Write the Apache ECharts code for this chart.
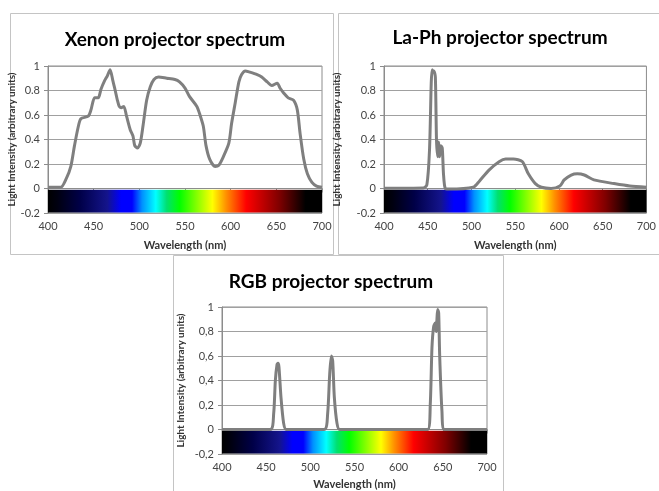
<!DOCTYPE html>
<html>
<head>
<meta charset="utf-8">
<script src="https://cdn.jsdelivr.net/npm/echarts@6/dist/echarts.min.js"></script>
<style>
  html, body { margin: 0; padding: 0; background: #fff; }
  #main { width: 659px; height: 491px; }
</style>
</head>
<body>
<div id="main"></div>
<script>
// Xenon lamp spectrum (wavelength nm, relative intensity)
const xenonNm = [400, 414, 420, 425, 429, 433, 436, 444, 447, 451, 455, 458, 462, 465, 468, 471, 473, 476, 478, 480, 483, 486, 490, 493, 495, 498, 501, 504, 508, 512, 516, 521, 530, 539, 544, 550, 555, 563, 566, 570, 573, 577, 583, 587, 592, 598, 601, 605, 609, 612, 616, 621, 629, 634, 640, 645, 651, 654, 658, 663, 669, 673, 676, 680, 684, 689, 694, 700]
const xenonVal = [0.01, 0.01, 0.08, 0.18, 0.35, 0.5, 0.57, 0.59, 0.64, 0.74, 0.74, 0.81, 0.88, 0.92, 0.97, 0.88, 0.82, 0.72, 0.67, 0.66, 0.67, 0.59, 0.48, 0.43, 0.35, 0.33, 0.37, 0.51, 0.72, 0.83, 0.89, 0.91, 0.9, 0.89, 0.87, 0.82, 0.75, 0.67, 0.61, 0.51, 0.35, 0.24, 0.18, 0.19, 0.26, 0.37, 0.53, 0.7, 0.87, 0.93, 0.96, 0.95, 0.93, 0.91, 0.87, 0.84, 0.86, 0.82, 0.78, 0.74, 0.72, 0.64, 0.45, 0.24, 0.12, 0.05, 0.02, 0.01]

// La-Ph projector spectrum
const laphNm = [400, 445, 449, 452, 454, 455, 456, 457, 458.7, 460, 461.4, 462.5, 463.6, 465, 466.6, 468, 470, 474, 502, 509, 520, 532, 539, 548, 558, 565, 573, 580, 591, 601, 606, 614, 621, 629, 640, 663, 681, 700]
const laphVal = [0.003, 0.005, 0.03, 0.31, 0.86, 0.97, 0.95, 0.96, 0.91, 0.4, 0.26, 0.38, 0.26, 0.35, 0.33, 0.12, 0.0, -0.005, 0.01, 0.06, 0.15, 0.22, 0.24, 0.24, 0.22, 0.12, 0.04, 0.01, 0.0, 0.02, 0.07, 0.11, 0.12, 0.11, 0.07, 0.04, 0.02, 0.01]

// RGB projector spectrum
const rgbNm = [400, 454.7, 458.5, 460.4, 462.3, 463.4, 464.5, 466.8, 469.8, 472.8, 515.8, 519.6, 521.9, 523.8, 525.3, 527.2, 530.2, 533.2, 632.8, 635.8, 637.7, 639.6, 641.5, 642.6, 643.4, 644.2, 645.3, 646.4, 649, 651.7, 700]
const rgbVal = [0, 0, 0.13, 0.4, 0.53, 0.54, 0.51, 0.26, 0.05, 0, 0, 0.13, 0.45, 0.6, 0.56, 0.26, 0.05, 0, 0, 0.21, 0.67, 0.84, 0.87, 0.8, 0.91, 0.98, 0.95, 0.61, 0.15, 0, 0]

// colour bar stops (nm -> colour)
const spectrumNm = [400, 410, 435, 465, 480, 492, 503, 518, 530, 544, 580, 595, 617, 653, 682, 700]
const spectrumColors = ['#000000', '#000010', '#000048', '#14148c', '#0000ff', '#0000ff', '#0090ff', '#00ffff', '#00e070', '#00ff00', '#ffff00', '#ff9000', '#ff0000', '#800000', '#000000', '#000000']

const titles = ['Xenon projector spectrum', 'La-Ph projector spectrum', 'RGB projector spectrum']
const yName = 'Light Intensity (arbitrary units)'
const xName = 'Wavelength (nm)'

const pairs = (xs, ys) => xs.map((x, i) => [x, ys[i]])

const spectrumGradient = {
  type: 'linear', x: 0, y: 0, x2: 1, y2: 0,
  colorStops: spectrumNm.map((nm, i) => ({ offset: (nm - 400) / 300, color: spectrumColors[i] }))
}

const fontFamily = 'Lato, "Open Sans", sans-serif'
const chart = echarts.init(document.getElementById('main'))

const grids = [
  { left: 48, top: 66, width: 274, height: 147 },
  { left: 384, top: 66, width: 268, height: 147 },
  { left: 222, top: 307, width: 265, height: 148 }
]
const yNameGaps = [30, 42, 36]
const xNameGaps = [27, 27, 25]

const option = {
  backgroundColor: '#fff',
  animation: false,
  grid: grids.map(g => Object.assign({ show: true, borderColor: '#8c8c8c', borderWidth: 1 }, g)),
  xAxis: grids.map((g, i) => ({
    type: 'value',
    gridIndex: i,
    min: 400,
    max: 700,
    interval: 50,
    name: xName,
    nameLocation: 'middle',
    nameGap: xNameGaps[i],
    nameTextStyle: { fontFamily, fontSize: 11, fontWeight: 'bold', color: '#333' },
    axisLine: { show: true, lineStyle: { color: '#8c8c8c' } },
    axisTick: { show: true, inside: false, length: 4, lineStyle: { color: '#8c8c8c' } },
    axisLabel: { fontFamily, fontSize: 11, color: '#444', margin: 8 },
    splitLine: { show: false }
  })),
  yAxis: grids.map((g, i) => ({
    type: 'value',
    gridIndex: i,
    min: -0.2,
    max: 1,
    interval: 0.2,
    name: yName,
    nameLocation: 'middle',
    nameGap: yNameGaps[i],
    nameTextStyle: { fontFamily, fontSize: 10, fontWeight: 'bold', color: '#333' },
    axisLine: { show: true, lineStyle: { color: '#8c8c8c' } },
    axisTick: { show: true, inside: false, length: 4, lineStyle: { color: '#8c8c8c' } },
    axisLabel: {
      fontFamily, fontSize: 11, color: '#444', margin: 8,
      formatter: v => {
        const s = String(Math.round(v * 10) / 10)
        return i === 2 ? s.replace('.', ',') : s
      }
    },
    splitLine: { show: true, lineStyle: { color: '#a0a0a0', width: 1 } }
  })),
  series: [pairs(xenonNm, xenonVal), pairs(laphNm, laphVal), pairs(rgbNm, rgbVal)].map((d, i) => ({
    type: 'line',
    xAxisIndex: i,
    yAxisIndex: i,
    data: d,
    showSymbol: false,
    smooth: 0.25,
    lineStyle: { color: '#7f7f7f', width: 3 },
    markArea: {
      silent: true,
      itemStyle: { color: spectrumGradient },
      data: [[{ coord: [400, -0.01] }, { coord: [700, -0.195] }]]
    },
    z: 3
  })),
  graphic: [
    { type: 'rect', shape: { x: 10.5, y: 13.5, width: 323, height: 241 }, style: { fill: null, stroke: '#c4c4c4', lineWidth: 1 }, z: -1 },
    { type: 'rect', shape: { x: 338.5, y: 13.5, width: 330, height: 241 }, style: { fill: null, stroke: '#c4c4c4', lineWidth: 1 }, z: -1 },
    { type: 'rect', shape: { x: 173.5, y: 255.5, width: 330, height: 240 }, style: { fill: null, stroke: '#c4c4c4', lineWidth: 1 }, z: -1 },
    { type: 'text', x: 175, y: 40, style: { text: titles[0], fontFamily, fontSize: 19, fontWeight: 'bold', fill: '#000', textAlign: 'center', textVerticalAlign: 'middle' } },
    { type: 'text', x: 500, y: 38, style: { text: titles[1], fontFamily, fontSize: 19, fontWeight: 'bold', fill: '#000', textAlign: 'center', textVerticalAlign: 'middle' } },
    { type: 'text', x: 331, y: 282, style: { text: titles[2], fontFamily, fontSize: 19, fontWeight: 'bold', fill: '#000', textAlign: 'center', textVerticalAlign: 'middle' } }
  ]
}

chart.setOption(option)
</script>
</body>
</html>
